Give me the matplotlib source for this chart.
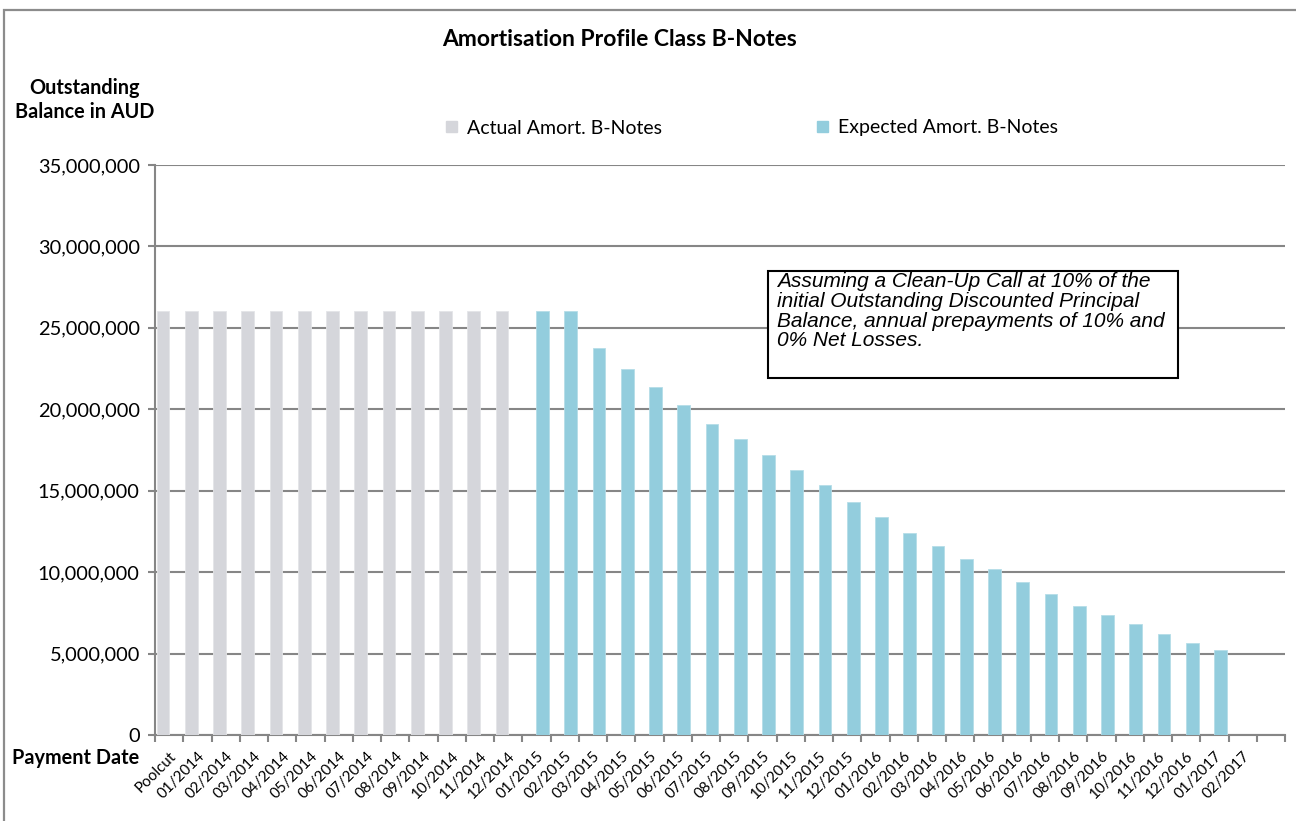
import numpy as np
import matplotlib
matplotlib.use('Agg')
import matplotlib.pyplot as plt
from matplotlib.patches import Rectangle, Patch
from matplotlib.ticker import FuncFormatter, FixedLocator

W, H = 1296, 821

# category axis (last slot is an empty Excel category)
categories = ['Poolcut', '01/2014', '02/2014', '03/2014', '04/2014', '05/2014', '06/2014',
              '07/2014', '08/2014', '09/2014', '10/2014', '11/2014', '12/2014',
              '01/2015', '02/2015', '03/2015', '04/2015', '05/2015', '06/2015',
              '07/2015', '08/2015', '09/2015', '10/2015', '11/2015', '12/2015',
              '01/2016', '02/2016', '03/2016', '04/2016', '05/2016', '06/2016',
              '07/2016', '08/2016', '09/2016', '10/2016', '11/2016', '12/2016',
              '01/2017', '02/2017', '']

# actual balances, Poolcut .. 12/2014
actual = [26050000, 26050000, 26050000, 26050000, 26050000, 26050000, 26050000,
          26050000, 26050000, 26050000, 26050000, 26050000, 26050000]

# expected balances, 01/2015 .. 01/2017
expected = [26050000, 26050000, 23780000, 22500000, 21390000, 20240000, 19100000,
            18200000, 17170000, 16250000, 15350000, 14330000, 13400000, 12380000,
            11590000, 10790000, 10210000, 9410000, 8640000, 7940000, 7370000,
            6800000, 6220000, 5670000, 5200000]

y_ticks = [0, 5000000, 10000000, 15000000, 20000000, 25000000, 30000000, 35000000]

gray = '#D5D6DB'
blue = '#93CDDD'
grid_c = '#868686'
cal = ['Lato', 'DejaVu Sans']


def fx(px):
    return px / W


def fy(py):
    return 1 - py / H


fig = plt.figure(figsize=(W / 100, H / 100), dpi=100)
fig.patch.set_facecolor('white')

# outer chart frame
fig.add_artist(Rectangle((fx(4), fy(H + 20)), 2, fy(10) - fy(H + 20),
                         transform=fig.transFigure, fill=False,
                         edgecolor='#8C8C8C', lw=1.6))

ax = fig.add_axes([fx(155), fy(735), fx(1285) - fx(155), fy(165) - fy(735)])

x = np.arange(len(categories))
x_act = x[:len(actual)]
x_exp = x[len(actual):len(actual) + len(expected)]

ax.bar(x_act - 0.22, actual, width=0.45, color=gray, edgecolor='#E4E5E8',
       lw=0.6, zorder=3, label='Actual Amort. B-Notes')
ax.bar(x_exp + 0.22, expected, width=0.45, color=blue, edgecolor='#B5DDE8',
       lw=0.6, zorder=3, label='Expected Amort. B-Notes')

ax.set_xlim(-0.5, len(categories) - 0.5)
ax.set_ylim(0, 35000000)
ax.set_yticks(y_ticks)
ax.yaxis.set_major_formatter(FuncFormatter(lambda v, p: '{:,.0f}'.format(v)))
ax.grid(axis='y', color=grid_c, lw=1.5, zorder=0)

ax.set_xticks(x)
ax.set_xticklabels(categories, rotation=45, ha='right', rotation_mode='anchor',
                   family=cal, fontsize=11)
ax.xaxis.set_minor_locator(FixedLocator(np.arange(-0.5, len(categories), 1)))
ax.tick_params(axis='x', which='major', length=0, pad=10)
ax.tick_params(axis='x', which='minor', length=5, width=1.5, color=grid_c)
ax.tick_params(axis='y', length=5, width=1.5, color=grid_c, pad=6, labelsize=14.4)
for lab in ax.get_yticklabels():
    lab.set_family(cal)

for s in ['top', 'right']:
    ax.spines[s].set_visible(False)
for s in ['left', 'bottom']:
    ax.spines[s].set_color(grid_c)
    ax.spines[s].set_linewidth(1.5)

fig.text(fx(619), fy(40), 'Amortisation Profile Class B-Notes', ha='center', va='center',
         fontsize=16.5, fontweight='bold', family=cal)
fig.text(fx(85), fy(100), 'Outstanding\nBalance in AUD', ha='center', va='center',
         fontsize=14.3, fontweight='bold', family=cal, linespacing=1.25)
fig.text(fx(76), fy(758), 'Payment Date', ha='center', va='center',
         fontsize=14.3, fontweight='bold', family=cal)

handles = [Patch(color=gray), Patch(color=blue)]
fig.legend(handles, ['Actual Amort. B-Notes', 'Expected Amort. B-Notes'],
           loc='center', bbox_to_anchor=(fx(752), fy(128)), ncol=2, frameon=False,
           handlelength=0.55, handleheight=0.55, handletextpad=0.5, columnspacing=8.0,
           prop={'family': cal, 'size': 14})

# note box
fig.add_artist(Rectangle((fx(768), fy(378)), fx(1178) - fx(768), fy(271) - fy(378),
                         transform=fig.transFigure, facecolor='white',
                         edgecolor='black', lw=1.5, zorder=5))
fig.text(fx(777), fy(272),
         'Assuming a Clean-Up Call at 10% of the\n'
         'initial Outstanding Discounted Principal\n'
         'Balance, annual prepayments of 10% and\n'
         '0% Net Losses.',
         ha='left', va='top', fontsize=15, style='italic', family='Liberation Sans',
         linespacing=1.05, zorder=6)

fig.savefig('out.png', dpi=100)
